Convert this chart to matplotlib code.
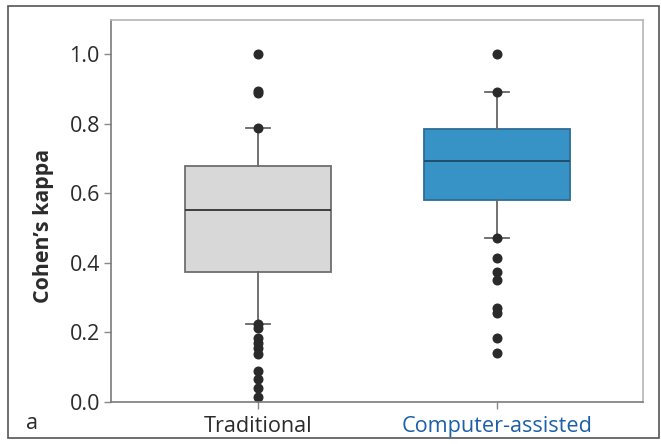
import matplotlib
matplotlib.use("Agg")
import matplotlib.pyplot as plt
from matplotlib.patches import Rectangle

plt.rcParams['font.family'] = ['Open Sans', 'DejaVu Sans']

# values
groups = ['Traditional', 'Computer-assisted']
q1 = [0.374, 0.580]
median = [0.552, 0.693]
q3 = [0.678, 0.784]
whisker_low = [0.224, 0.470]
whisker_high = [0.789, 0.891]
fliers = [
    [1.0, 0.895, 0.889, 0.789, 0.224, 0.212, 0.185, 0.170, 0.155, 0.138,
     0.090, 0.065, 0.040, 0.015],
    [1.0, 0.891, 0.470, 0.413, 0.375, 0.351, 0.270, 0.256, 0.184, 0.140],
]

box_colors = ['#d8d8d8', '#3792c6']
edge_colors = ['#6e6e6e', '#2c6d95']
label_colors = ['#2b2b2b', '#1d5fa8']

fig = plt.figure(figsize=(6.61, 4.44), dpi=100)
ax = fig.add_axes([111 / 661, 42 / 444, (643 - 111) / 661, (402 - 20) / 444])

stats = []
for i, name in enumerate(groups):
    stats.append({'label': name, 'q1': q1[i], 'med': median[i], 'q3': q3[i],
                  'whislo': whisker_low[i], 'whishi': whisker_high[i],
                  'fliers': fliers[i]})

bp = ax.bxp(stats, positions=[0, 1], widths=0.607, capwidths=0.1,
            patch_artist=True, showfliers=True,
            flierprops=dict(marker='o', markersize=6.2, markerfacecolor='#2a2a2a',
                            markeredgecolor='#2a2a2a', linestyle='none'),
            whiskerprops=dict(color='#666666', linewidth=1.3),
            capprops=dict(color='#666666', linewidth=1.3),
            medianprops=dict(color='#3d3d3d', linewidth=1.4))

for i, box in enumerate(bp['boxes']):
    box.set_facecolor(box_colors[i])
    box.set_edgecolor(edge_colors[i])
    box.set_linewidth(1.3)
bp['medians'][1].set_color('#1f4f6e')

ax.set_xlim(-0.615, 1.611)
ax.set_ylim(0, 1.098)
ax.set_yticks([0.0, 0.2, 0.4, 0.6, 0.8, 1.0])
ax.set_yticklabels(['0.0', '0.2', '0.4', '0.6', '0.8', '1.0'])
ax.set_xticks([0, 1])
ax.set_xticklabels(groups)

ax.tick_params(axis='both', direction='out', length=5, width=1.0, color='#888888',
               labelcolor='#2b2b2b')
ax.tick_params(axis='y', labelsize=15.5, pad=3)
ax.tick_params(axis='x', labelsize=15.6, pad=5)
for lab, c in zip(ax.get_xticklabels(), label_colors):
    lab.set_color(c)

for side in ['left', 'bottom']:
    ax.spines[side].set_color('#7a7a7a')
    ax.spines[side].set_linewidth(1.2)
for side in ['top', 'right']:
    ax.spines[side].set_color('#b5b5b5')
    ax.spines[side].set_linewidth(1.2)

ax.set_ylabel('Cohen\u2019s kappa', fontsize=15.4, fontweight='bold', color='#2b2b2b')
ax.yaxis.set_label_coords(-0.107, 0.46)

fig.text(26 / 661, 1 - 423 / 444, 'a', fontsize=15.5, color='#2b2b2b',
         ha='left', va='center')

fig.patches.append(Rectangle((8 / 661, 1 - 438 / 444), (659 - 8) / 661, (438 - 6) / 444,
                             transform=fig.transFigure, fill=False,
                             edgecolor='#555555', linewidth=1.2))

fig.savefig('out.png', dpi=100)
